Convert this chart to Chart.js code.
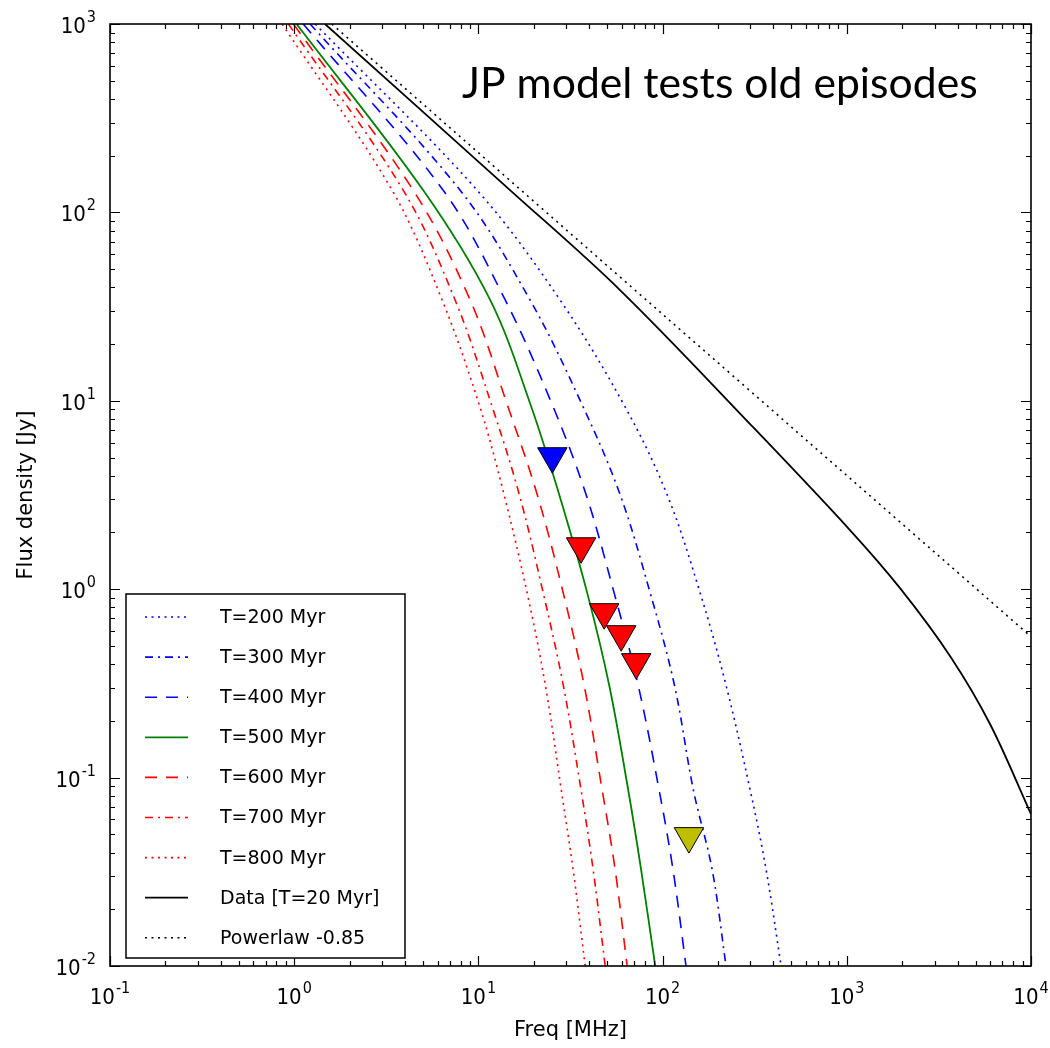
<!DOCTYPE html>
<html>
<head>
<meta charset="utf-8">
<script src="https://cdn.jsdelivr.net/npm/chart.js@4.4.0/dist/chart.umd.min.js"></script>
<style>
    html, body { margin: 0; padding: 0; background: #fff; }
    #wrap { width: 1050px; height: 1048px; }
</style>
</head>
<body>
<div id="wrap"><canvas id="chart" width="1050" height="1048"></canvas></div>
<script>
// JP model spectra, frequency in MHz, flux density in Jy
// all model curves were read at the same flux levels
const modelFlux = [1000, 131, 34.2, 9.25, 3.16, 0.953, 0.309, 0.0857, 0.0323, 0.01];
const freq200 = [1.30, 9.85, 27.8, 62.7, 106, 160, 221, 299, 365, 440];
const freq300 = [1.22, 7.96, 19.1, 37.1, 58.9, 85.7, 116, 147, 186, 221];
const freq400 = [1.12, 6.44, 14.0, 25.5, 38.5, 54.6, 73.7, 95.8, 114, 134];
const freq500 = [1.03, 5.02, 11.6, 19.4, 27.5, 39.0, 51.3, 65.1, 76.5, 91.2];
const freq600 = [0.99, 4.43, 9.03, 14.5, 20.9, 28.9, 37.5, 47.0, 55.3, 64.2];
const freq700 = [0.93, 3.91, 7.48, 11.9, 16.7, 22.5, 28.9, 36.1, 42.0, 48.8];
const freq800 = [0.86, 3.40, 6.36, 10.2, 13.8, 18.4, 23.1, 28.2, 32.7, 38.0];

// observed spectrum (T=20 Myr) and straight power law
const freqData = [1.47, 14.9, 58.9, 310, 1040, 1950, 3640, 6000, 10000];
const fluxData = [1000, 131, 38.6, 7.24, 2.06, 1.01, 0.441, 0.192, 0.064];
const freqPower = [1.6, 58.9, 10000];
const fluxPower = [1000, 45.3, 0.56];

// upper limits (triangles)
const freqLimits = [25.2, 36.1, 48.2, 59.6, 71.9, 139];
const fluxLimits = [5.08, 1.69, 0.755, 0.577, 0.41, 0.0489];
const limitColors = ['#0000ff', '#ff0000', '#ff0000', '#ff0000', '#ff0000', '#bfbf00'];

const xDecades = [-1, 0, 1, 2, 3, 4];
const yDecades = [-2, -1, 0, 1, 2, 3];

function pairs(xs, ys) {
    return xs.map((v, i) => ({ x: v, y: ys[i] }));
}

function curve(label, xs, ys, color, dash, width) {
    return {
        label: label,
        data: pairs(xs, ys),
        showLine: true,
        borderColor: color,
        borderWidth: width || 1.6,
        borderDash: dash,
        pointRadius: 0,
        pointHoverRadius: 0,
        fill: false,
        tension: 0.35
    };
}

const DOT = [2, 4.5];
const DASHDOT = [8, 5, 2, 5];
const DASH = [12, 9];

const datasets = [
    {
        label: 'limits',
        data: pairs(freqLimits, fluxLimits),
        showLine: false,
        pointStyle: 'triangle',
        rotation: 180,
        pointRadius: 17,
        pointHoverRadius: 17,
        pointBackgroundColor: limitColors,
        pointBorderColor: '#000',
        pointBorderWidth: 1,
        order: -1,
        hideInLegend: true
    },
    curve('T=200 Myr', freq200, modelFlux, '#0000ff', DOT),
    curve('T=300 Myr', freq300, modelFlux, '#0000ff', DASHDOT),
    curve('T=400 Myr', freq400, modelFlux, '#0000ff', DASH),
    curve('T=500 Myr', freq500, modelFlux, '#008000', [], 1.8),
    curve('T=600 Myr', freq600, modelFlux, '#ff0000', DASH),
    curve('T=700 Myr', freq700, modelFlux, '#ff0000', DASHDOT),
    curve('T=800 Myr', freq800, modelFlux, '#ff0000', DOT),
    curve('Data [T=20 Myr]', freqData, fluxData, '#000000', [], 1.8),
    curve('Powerlaw -0.85', freqPower, fluxPower, '#000000', DOT)
];

function drawPow(ctx, exp, px, baseline, align) {
    const base = '10';
    const e = String(exp);
    ctx.font = '22px "DejaVu Sans Condensed", "DejaVu Sans"';
    const wb = ctx.measureText(base).width;
    ctx.font = '16px "DejaVu Sans Condensed", "DejaVu Sans"';
    const we = ctx.measureText(e).width;
    const total = wb + we + 1;
    let start = align === 'right' ? px - total : px - total / 2;
    ctx.textAlign = 'left';
    ctx.textBaseline = 'alphabetic';
    ctx.font = '22px "DejaVu Sans Condensed", "DejaVu Sans"';
    ctx.fillText(base, start, baseline);
    ctx.font = '16px "DejaVu Sans Condensed", "DejaVu Sans"';
    ctx.fillText(e, start + wb + 1, baseline - 11);
}

const framePlugin = {
    id: 'frame',
    afterDatasetsDraw(chart) {
        const { ctx, chartArea: a, scales } = chart;
        const xs = scales.x, ys = scales.y;
        ctx.save();
        ctx.fillStyle = '#000';
        ctx.strokeStyle = '#000';

        // inward ticks on all four sides
        ctx.lineWidth = 1.2;
        ctx.beginPath();
        xDecades.forEach(d => {
            for (let m = 1; m <= 9; m++) {
                if (d === 4 && m > 1) break;
                const px = Math.round(xs.getPixelForValue(m * Math.pow(10, d))) + 0.5;
                const len = m === 1 ? 10 : 5;
                ctx.moveTo(px, a.bottom); ctx.lineTo(px, a.bottom - len);
                ctx.moveTo(px, a.top); ctx.lineTo(px, a.top + len);
            }
        });
        yDecades.forEach(d => {
            for (let m = 1; m <= 9; m++) {
                if (d === 3 && m > 1) break;
                const py = Math.round(ys.getPixelForValue(m * Math.pow(10, d))) + 0.5;
                const len = m === 1 ? 10 : 5;
                ctx.moveTo(a.left, py); ctx.lineTo(a.left + len, py);
                ctx.moveTo(a.right, py); ctx.lineTo(a.right - len, py);
            }
        });
        ctx.stroke();

        // frame
        ctx.lineWidth = 1.6;
        ctx.strokeRect(a.left, a.top, a.right - a.left, a.bottom - a.top);

        // tick labels
        xDecades.forEach(d => drawPow(ctx, d, xs.getPixelForValue(Math.pow(10, d)), 1004, 'center'));
        yDecades.forEach(d => drawPow(ctx, d, 96, ys.getPixelForValue(Math.pow(10, d)) + 9, 'right'));

        // axis titles
        ctx.font = '21px "DejaVu Sans"';
        ctx.textAlign = 'center';
        ctx.textBaseline = 'alphabetic';
        ctx.fillText('Freq [MHz]', (a.left + a.right) / 2, 1036);
        ctx.save();
        ctx.translate(32, (a.top + a.bottom) / 2);
        ctx.rotate(-Math.PI / 2);
        ctx.fillText('Flux density [Jy]', 0, 0);
        ctx.restore();

        // legend
        const lx = 126, ly = 594, lw = 279, lh = 364;
        ctx.fillStyle = '#fff';
        ctx.fillRect(lx, ly, lw, lh);
        ctx.lineWidth = 1.5;
        ctx.strokeRect(lx, ly, lw, lh);
        ctx.font = '19px "DejaVu Sans"';
        ctx.textAlign = 'left';
        ctx.textBaseline = 'middle';
        let row = 0;
        chart.data.datasets.forEach(ds => {
            if (ds.hideInLegend) return;
            const yy = 617 + row * 40.1;
            ctx.strokeStyle = ds.borderColor;
            ctx.lineWidth = ds.borderWidth;
            ctx.setLineDash(ds.borderDash || []);
            ctx.beginPath();
            ctx.moveTo(145, yy);
            ctx.lineTo(188, yy);
            ctx.stroke();
            ctx.setLineDash([]);
            ctx.fillStyle = '#000';
            ctx.fillText(ds.label, 220, yy + 1);
            row++;
        });

        // annotation
        const note = 'JP model tests old episodes';
        let size = 44;
        ctx.font = size + 'px Lato, "Open Sans", sans-serif';
        size = size * 516 / ctx.measureText(note).width;
        ctx.font = size.toFixed(1) + 'px Lato, "Open Sans", sans-serif';
        ctx.textBaseline = 'alphabetic';
        ctx.fillText(note, 462, 98);
        ctx.restore();
    }
};

new Chart(document.getElementById('chart'), {
    type: 'scatter',
    data: { datasets: datasets },
    options: {
        responsive: false,
        animation: false,
        devicePixelRatio: 1,
        layout: { padding: { left: 0, top: 24, right: 19, bottom: 0 } },
        plugins: { legend: { display: false }, tooltip: { enabled: false } },
        scales: {
            x: {
                type: 'logarithmic',
                min: 0.1,
                max: 10000,
                grid: { display: false },
                border: { display: false },
                ticks: { display: false },
                afterFit: s => { s.height = 1048 - 966; }
            },
            y: {
                type: 'logarithmic',
                min: 0.01,
                max: 1000,
                grid: { display: false },
                border: { display: false },
                ticks: { display: false },
                afterFit: s => { s.width = 110; }
            }
        }
    },
    plugins: [framePlugin]
});
</script>
</body>
</html>
